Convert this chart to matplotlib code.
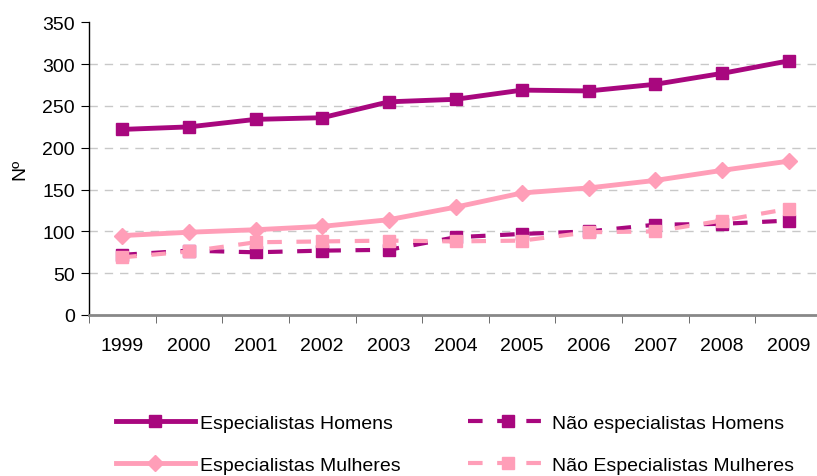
import numpy as np
import matplotlib.pyplot as plt

plt.rcParams['font.family'] = ['Liberation Sans', 'DejaVu Sans']

anos = ['1999', '2000', '2001', '2002', '2003', '2004', '2005', '2006', '2007', '2008', '2009']
esp_homens = [222, 225, 234, 236, 255, 258, 269, 268, 276, 289, 304]
esp_mulheres = [95, 99, 102, 106, 114, 129, 146, 152, 161, 173, 184]
nao_esp_homens = [72, 77, 75, 77, 78, 93, 97, 100, 108, 109, 113]
nao_esp_mulheres = [69, 76, 87, 88, 89, 88, 89, 99, 100, 113, 127]

escuro = '#A8077E'
claro = '#FF9EB8'

fig = plt.figure(figsize=(8.17, 4.77), dpi=100)
ax = fig.add_axes([89 / 817, 161 / 477, 733 / 817, 292.6 / 477])

x = np.arange(len(anos))

ax.plot(x, nao_esp_mulheres, color=claro, lw=3, dashes=(3.5, 3.5), marker='s', ms=8,
        label='Não Especialistas Mulheres', zorder=3)
ax.plot(x, nao_esp_homens, color=escuro, lw=3, dashes=(3.5, 3.5), marker='s', ms=8,
        label='Não especialistas Homens', zorder=2)
ax.plot(x, esp_mulheres, color=claro, lw=3.5, marker='D', ms=8,
        label='Especialistas Mulheres', zorder=4)
ax.plot(x, esp_homens, color=escuro, lw=3.5, marker='s', ms=8,
        label='Especialistas Homens', zorder=5)

ax.set_xlim(-0.5, len(anos) - 0.5)
ax.set_ylim(0, 350)
ax.set_yticks(range(0, 351, 50))
ax.set_xticks(x)
ax.set_xticklabels(anos)
ax.set_xticks(np.arange(-0.5, len(anos), 1), minor=True)
ax.tick_params(axis='x', which='major', length=0, pad=16, labelsize=14)
ax.tick_params(axis='x', which='minor', length=6, direction='out', color='#555555')
ax.tick_params(axis='y', length=6, direction='out', labelsize=14, pad=4)

for v in range(50, 301, 50):
    ax.axhline(v, color='#C8C8C8', lw=1, dashes=(6, 5), zorder=1)

ax.spines['top'].set_visible(False)
ax.spines['right'].set_visible(False)
ax.spines['left'].set_color('black')
ax.spines['left'].set_linewidth(1)
ax.spines['bottom'].set_color('#888888')
ax.spines['bottom'].set_linewidth(2)
ax.set_ylabel('Nº', fontsize=14, labelpad=10)

h, l = ax.get_legend_handles_labels()
order = [3, 2, 1, 0]
fig.legend([h[i] for i in order], [l[i] for i in order], ncol=2, loc='center',
           bbox_to_anchor=(455 / 817, 1 - 445 / 477), frameon=False, fontsize=14,
           handlelength=4.1, handletextpad=0.25, columnspacing=3.45, labelspacing=1.25)

fig.savefig('out.png', dpi=100)
